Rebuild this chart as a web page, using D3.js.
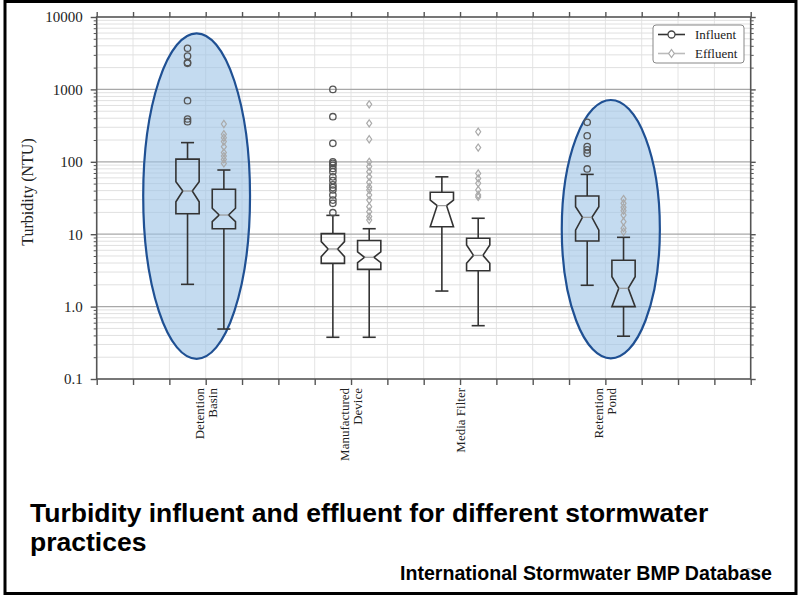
<!DOCTYPE html>
<html>
<head>
<meta charset="utf-8">
<script src="https://cdn.jsdelivr.net/npm/d3@7"></script>
<style>
  html, body { margin: 0; padding: 0; background: #fff; }
  svg { display: block; }
</style>
</head>
<body>
<div id="chart"></div>
<script>
// ---------------- DATA ----------------
const categoryLines = [["Detention", "Basin"], ["Manufactured", "Device"], ["Media Filter"], ["Retention", "Pond"]];
const categoryTicks = [3, 7, 10, 14];          // x-axis slot of each category label
const seriesNames = ["Influent", "Effluent"];
const seriesOffset = [-0.5, 0.5];               // box slot relative to category tick

const yTickValues = [0.1, 1, 10, 100, 1000, 10000];
const yTickLabels = ["0.1", "1.0", "10", "100", "1000", "10000"];

// Influent statistics (NTU)
const influentWhiskerLo = [2.03, 0.377, 1.64, 1.97];
const influentQ1        = [19.2, 3.96, 12.7, 8.05];
const influentNotchLo   = [28.1, 4.9, 12.7, 11.4];
const influentMedian    = [39.5, 6.25, 24.8, 17.1];
const influentNotchHi   = [53.2, 7.9, 29.6, 24.0];
const influentQ3        = [109, 10.2, 37.9, 33.7];
const influentWhiskerHi = [184, 18.2, 62, 67];
const influentOutliers  = [
  [3700, 2890, 2295, 2350, 698, 390, 358],
  [1000, 420, 180, 100, 95, 89.6, 81, 73, 62, 55, 48, 44, 40.8, 34.8, 29.6, 26.7, 19.8],
  [],
  [351, 229, 162, 146, 131, 79.6]
];

// Effluent statistics (NTU)
const effluentWhiskerLo = [0.49, 0.377, 0.545, 0.39];
const effluentQ1        = [11.9, 3.27, 3.13, 1.0];
const effluentNotchLo   = [14.9, 4.05, 3.96, 1.0];
const effluentMedian    = [18.4, 4.8, 5.1, 1.79];
const effluentNotchHi   = [22.8, 5.7, 7.1, 2.59];
const effluentQ3        = [41.7, 8.2, 8.8, 4.36];
const effluentWhiskerHi = [77, 11.9, 16.6, 9.05];
const effluentOutliers  = [
  [333, 240, 215, 190, 162, 134, 120, 108, 95],
  [622, 340, 205, 100, 86, 73, 62, 52, 45, 40.8, 34.8, 29.6, 24, 20.5, 17.5, 15.7],
  [260, 157, 69, 59, 50.5, 40.8, 34.8, 32.7],
  [30.6, 26.7, 23.5, 21.1, 18.4, 14.9, 12.1, 10.8]
];

// Highlight ellipses (annotation)
const ellipseCenterX   = [2.75, 14.15];
const ellipseHalfWidth = [1.47, 1.35];
const ellipseTop       = [5950, 714];
const ellipseBottom    = [0.19, 0.193];

const titleLines = ["Turbidity influent and effluent for different stormwater", "practices"];
const sourceText = "International Stormwater BMP Database";
const pageNumber = "21";
const yAxisTitle = "Turbidity (NTU)";

// ---------------- LAYOUT ----------------
const W = 803, H = 597;
const plot = { left: 96.7, right: 750.7, top: 17, bottom: 379 };
const serif = "'Liberation Serif', 'Times New Roman', serif";
const sans = "'Liberation Sans', Arial, sans-serif";

const svg = d3.select("#chart").append("svg").attr("width", W).attr("height", H);
svg.append("rect").attr("width", W).attr("height", H).attr("fill", "#fff");

const x = d3.scaleLinear().domain([0, 18]).range([plot.left, plot.right]);
const y = d3.scaleLog().domain([0.1, 10000]).range([plot.bottom, plot.top]);

// minor log values
const minorVals = [];
for (let e = -1; e < 4; e++) for (let m = 2; m <= 9; m++) minorVals.push(m * Math.pow(10, e));

const g = svg.append("g");

// vertical grid
g.selectAll(".vgrid").data(d3.range(1, 18)).enter().append("line")
  .attr("x1", d => x(d)).attr("x2", d => x(d))
  .attr("y1", plot.top).attr("y2", plot.bottom)
  .attr("stroke", "#e4e4e4").attr("stroke-width", 1);

// minor horizontal grid
g.selectAll(".mgrid").data(minorVals).enter().append("line")
  .attr("x1", plot.left).attr("x2", plot.right)
  .attr("y1", d => y(d)).attr("y2", d => y(d))
  .attr("stroke", "#e0e0e0").attr("stroke-width", 1);

// major horizontal grid
g.selectAll(".Mgrid").data(yTickValues.slice(1, -1)).enter().append("line")
  .attr("x1", plot.left).attr("x2", plot.right)
  .attr("y1", d => y(d)).attr("y2", d => y(d))
  .attr("stroke", "#a8a8a8").attr("stroke-width", 1.2);

// ---------------- ELLIPSES (annotation, under the boxes) ----------------
ellipseCenterX.forEach((cx, i) => {
  const yT = y(ellipseTop[i]), yB = y(ellipseBottom[i]);
  g.append("ellipse")
    .attr("cx", x(cx)).attr("cy", (yT + yB) / 2)
    .attr("rx", x(cx + ellipseHalfWidth[i]) - x(cx)).attr("ry", (yB - yT) / 2)
    .attr("fill", "#9dc3e6").attr("fill-opacity", 0.6)
    .attr("stroke", "#1f5093").attr("stroke-width", 2.2);
});

// ---------------- BOXES ----------------
const boxHW = 0.32, notchHW = 0.13, capHW = 0.18;
const stats = [
  { lo: influentWhiskerLo, q1: influentQ1, nlo: influentNotchLo, med: influentMedian, nhi: influentNotchHi, q3: influentQ3, hi: influentWhiskerHi, out: influentOutliers },
  { lo: effluentWhiskerLo, q1: effluentQ1, nlo: effluentNotchLo, med: effluentMedian, nhi: effluentNotchHi, q3: effluentQ3, hi: effluentWhiskerHi, out: effluentOutliers }
];
const boxStroke = "#333";

stats.forEach((s, si) => {
  categoryTicks.forEach((ct, ci) => {
    const cx = ct + seriesOffset[si];
    const X = v => x(cx + v);
    const bg = g.append("g");
    // whiskers
    bg.append("line").attr("x1", X(0)).attr("x2", X(0)).attr("y1", y(s.q3[ci])).attr("y2", y(s.hi[ci]))
      .attr("stroke", boxStroke).attr("stroke-width", 1.6);
    bg.append("line").attr("x1", X(-capHW)).attr("x2", X(capHW)).attr("y1", y(s.hi[ci])).attr("y2", y(s.hi[ci]))
      .attr("stroke", boxStroke).attr("stroke-width", 1.6);
    bg.append("line").attr("x1", X(0)).attr("x2", X(0)).attr("y1", y(s.q1[ci])).attr("y2", y(s.lo[ci]))
      .attr("stroke", boxStroke).attr("stroke-width", 1.6);
    bg.append("line").attr("x1", X(-capHW)).attr("x2", X(capHW)).attr("y1", y(s.lo[ci])).attr("y2", y(s.lo[ci]))
      .attr("stroke", boxStroke).attr("stroke-width", 1.6);
    // notched box
    const pts = [
      [X(-boxHW), y(s.q3[ci])], [X(boxHW), y(s.q3[ci])], [X(boxHW), y(s.nhi[ci])],
      [X(notchHW), y(s.med[ci])], [X(boxHW), y(s.nlo[ci])], [X(boxHW), y(s.q1[ci])],
      [X(-boxHW), y(s.q1[ci])], [X(-boxHW), y(s.nlo[ci])], [X(-notchHW), y(s.med[ci])],
      [X(-boxHW), y(s.nhi[ci])]
    ];
    bg.append("path").attr("d", "M" + pts.map(p => p.join(",")).join("L") + "Z")
      .attr("fill", "none").attr("stroke", boxStroke).attr("stroke-width", 1.6).attr("stroke-linejoin", "miter");
    bg.append("line").attr("x1", X(-notchHW)).attr("x2", X(notchHW)).attr("y1", y(s.med[ci])).attr("y2", y(s.med[ci]))
      .attr("stroke", "#999").attr("stroke-width", 1.2);
    // outliers
    if (si === 0) {
      bg.selectAll("circle").data(s.out[ci]).enter().append("circle")
        .attr("cx", X(0)).attr("cy", d => y(d)).attr("r", 3.2)
        .attr("fill", "none").attr("stroke", "#555").attr("stroke-width", 1.3);
    } else {
      bg.selectAll("path.d").data(s.out[ci]).enter().append("path")
        .attr("d", d => { const px = X(0), py = y(d); return `M${px},${py - 3.6}L${px + 2.5},${py}L${px},${py + 3.6}L${px - 2.5},${py}Z`; })
        .attr("fill", "none").attr("stroke", "#aaa").attr("stroke-width", 1.2);
    }
  });
});

// ---------------- AXES ----------------
const axisColor = "#555";
const ax = svg.append("g");
ax.append("rect").attr("x", plot.left).attr("y", plot.top)
  .attr("width", plot.right - plot.left).attr("height", plot.bottom - plot.top)
  .attr("fill", "none").attr("stroke", axisColor).attr("stroke-width", 1.6);

// bottom axis ticks
const xAxis = d3.axisBottom(x).tickValues(d3.range(0, 19)).tickSize(6).tickFormat("");
const xAxG = ax.append("g").attr("transform", `translate(0,${plot.bottom})`).call(xAxis);
xAxG.select(".domain").remove();
xAxG.selectAll("line").attr("stroke", axisColor).attr("stroke-width", 1.4);
// top axis ticks
const xTop = d3.axisTop(x).tickValues(d3.range(0, 19)).tickSize(5).tickFormat("");
const xTopG = ax.append("g").attr("transform", `translate(0,${plot.top})`).call(xTop);
xTopG.select(".domain").remove();
xTopG.selectAll("line").attr("stroke", axisColor).attr("stroke-width", 1.4);

// left axis
const yAxis = d3.axisLeft(y).tickValues(yTickValues).tickSize(6).tickPadding(8)
  .tickFormat(d => yTickLabels[yTickValues.indexOf(d)]);
const yAxG = ax.append("g").attr("transform", `translate(${plot.left},0)`).call(yAxis);
yAxG.select(".domain").remove();
yAxG.selectAll("line").attr("stroke", axisColor).attr("stroke-width", 1.4);
yAxG.selectAll("text").attr("font-family", serif).attr("font-size", 15).attr("fill", "#222");
const yMinor = d3.axisLeft(y).tickValues(minorVals).tickSize(3).tickFormat("");
const yMinG = ax.append("g").attr("transform", `translate(${plot.left},0)`).call(yMinor);
yMinG.select(".domain").remove();
yMinG.selectAll("line").attr("stroke", axisColor).attr("stroke-width", 1);

// right axis
const yR = d3.axisRight(y).tickValues(yTickValues).tickSize(5).tickFormat("");
const yRG = ax.append("g").attr("transform", `translate(${plot.right},0)`).call(yR);
yRG.select(".domain").remove();
yRG.selectAll("line").attr("stroke", axisColor).attr("stroke-width", 1.4);
const yRm = d3.axisRight(y).tickValues(minorVals).tickSize(3).tickFormat("");
const yRmG = ax.append("g").attr("transform", `translate(${plot.right},0)`).call(yRm);
yRmG.select(".domain").remove();
yRmG.selectAll("line").attr("stroke", axisColor).attr("stroke-width", 1);

// category labels
categoryTicks.forEach((ct, i) => {
  const lines = categoryLines[i];
  const t = svg.append("text")
    .attr("transform", `translate(${x(ct)},388) rotate(-90)`)
    .attr("text-anchor", "end").attr("font-family", serif).attr("font-size", 13).attr("fill", "#222");
  lines.forEach((ln, j) => {
    const off = (j - (lines.length - 1) / 2) * 13;
    t.append("tspan").attr("x", 0).attr("y", off).attr("dy", "0.35em").text(ln);
  });
});

// y axis title
svg.append("text")
  .attr("transform", `translate(33,192) rotate(-90)`)
  .attr("text-anchor", "middle").attr("font-family", serif).attr("font-size", 16).attr("fill", "#222")
  .text(yAxisTitle);

// ---------------- LEGEND ----------------
const lg = svg.append("g");
lg.append("rect").attr("x", 653).attr("y", 25).attr("width", 91).attr("height", 38).attr("rx", 3)
  .attr("fill", "#fff").attr("stroke", "#888").attr("stroke-width", 1);
seriesNames.forEach((name, i) => {
  const ly = 34.5 + i * 19;
  const col = i === 0 ? "#333" : "#bbb";
  lg.append("line").attr("x1", 658).attr("x2", 685).attr("y1", ly).attr("y2", ly)
    .attr("stroke", col).attr("stroke-width", 1.6);
  if (i === 0) {
    lg.append("circle").attr("cx", 671.5).attr("cy", ly).attr("r", 3.5)
      .attr("fill", "#fff").attr("stroke", "#444").attr("stroke-width", 1.3);
  } else {
    lg.append("path").attr("d", `M671.5,${ly - 4}L674.3,${ly}L671.5,${ly + 4}L668.7,${ly}Z`)
      .attr("fill", "#fff").attr("stroke", "#aaa").attr("stroke-width", 1.2);
  }
  lg.append("text").attr("x", 695).attr("y", ly + 4.5)
    .attr("font-family", serif).attr("font-size", 13).attr("fill", "#222").text(name);
});

// ---------------- SLIDE TEXT ----------------
titleLines.forEach((ln, i) => {
  svg.append("text").attr("x", 30).attr("y", 522 + i * 29)
    .attr("font-family", sans).attr("font-weight", "bold").attr("font-size", 26.5).attr("fill", "#000")
    .text(ln);
});
svg.append("text").attr("x", 745).attr("y", 577)
  .attr("font-family", sans).attr("font-size", 12).attr("fill", "#c8c8c8").text(pageNumber);
svg.append("text").attr("x", 772).attr("y", 580).attr("text-anchor", "end")
  .attr("font-family", sans).attr("font-weight", "bold").attr("font-size", 19.6).attr("fill", "#000")
  .text(sourceText);

// slide border
svg.append("rect").attr("x", 5).attr("y", 1.5).attr("width", 791).attr("height", 592)
  .attr("fill", "none").attr("stroke", "#000").attr("stroke-width", 3);
</script>
</body>
</html>
